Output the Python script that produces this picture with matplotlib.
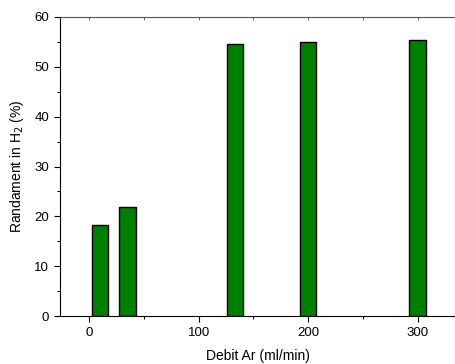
import matplotlib.pyplot as plt
from matplotlib.ticker import MultipleLocator

plt.rcParams['font.family'] = ['Liberation Sans', 'DejaVu Sans']

# flow rate of Ar and hydrogen yield
debit = [10, 35, 133, 200, 300]
randament = [18.35, 21.8, 54.5, 54.9, 55.3]

fig = plt.figure(figsize=(4.56, 3.64), dpi=100)
ax = fig.add_axes([60.3 / 456, 47.7 / 364, 1 - 60.3 / 456, 299.6 / 364])

ax.bar(debit, randament, width=15, color='#007f00', edgecolor='black', linewidth=1)

ax.set_xlim(-26.5, 335)
ax.set_ylim(0, 60)
ax.xaxis.set_major_locator(MultipleLocator(100))
ax.xaxis.set_minor_locator(MultipleLocator(50))
ax.yaxis.set_major_locator(MultipleLocator(10))
ax.yaxis.set_minor_locator(MultipleLocator(5))

ax.tick_params(which='major', direction='out', length=4, width=0.8, labelsize=9.5, pad=4)
ax.tick_params(which='minor', direction='out', length=2.5, width=0.8)
ax.spines['right'].set_visible(False)
ax.spines['top'].set_color('#555555')

# small inward ticks along the top edge
top = ax.secondary_xaxis('top')
top.xaxis.set_major_locator(MultipleLocator(50))
top.tick_params(direction='in', length=2, width=0.6, color='#555555', labeltop=False)
top.spines['top'].set_visible(False)

ax.set_xlabel('Debit Ar (ml/min)', fontsize=10, labelpad=7)
ax.set_ylabel('Randament in H$_2$ (%)', fontsize=10, labelpad=6)

fig.savefig('out.png', dpi=100)
